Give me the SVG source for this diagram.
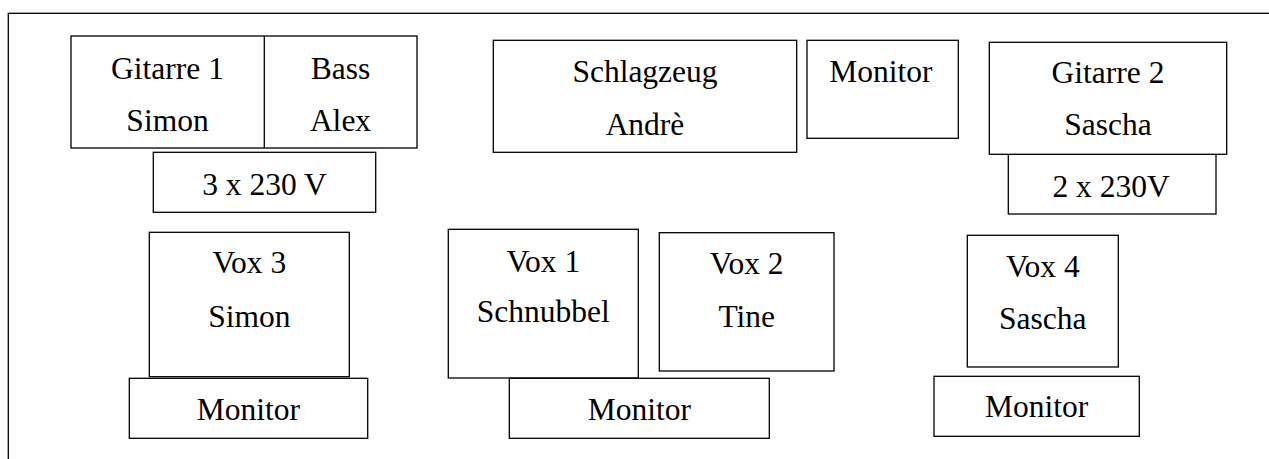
<svg xmlns="http://www.w3.org/2000/svg" width="1269" height="459" viewBox="0 0 1269 459">
<style>
rect{fill:#fff;stroke:#000;stroke-width:1.3}
text{font-size:31.5px;fill:#000;text-anchor:middle}
.f{font-family:'Liberation Serif','Times New Roman','DejaVu Serif',serif}
</style>
<rect x="8.3" y="13.3" width="1300" height="500"/>
<g class="f" font-family="Liberation Serif, Times New Roman, DejaVu Serif, serif">
<g id="gitarre1-bass">
<rect x="71" y="36" width="346" height="112"/>
<line x1="264.3" y1="36" x2="264.3" y2="148" stroke="#000" stroke-width="1.3"/>
<text x="167.5" y="78.7">Gitarre 1</text>
<text x="167.5" y="130.7">Simon</text>
<text x="340.5" y="78.7">Bass</text>
<text x="340.5" y="130.7">Alex</text>
</g>
<g id="power3">
<rect x="153.3" y="152.3" width="222.4" height="60"/>
<text x="264.5" y="195">3 x 230 V</text>
</g>
<g id="schlagzeug">
<rect x="493.3" y="40.3" width="303.4" height="112"/>
<text x="645" y="81.7">Schlagzeug</text>
<text x="645" y="135">Andrè</text>
</g>
<g id="monitor-top">
<rect x="807" y="40.3" width="151.3" height="98"/>
<text x="881" y="81.7">Monitor</text>
</g>
<g id="power2">
<rect x="1008.3" y="154.3" width="207.7" height="59.7"/>
<text x="1111" y="196.7">2 x 230V</text>
</g>
<g id="gitarre2">
<rect x="989.3" y="42.3" width="237.4" height="112"/>
<text x="1108" y="83.3">Gitarre 2</text>
<text x="1108" y="135">Sascha</text>
</g>
<g id="vox3">
<rect x="149.3" y="232.3" width="200" height="144.4"/>
<text x="249.3" y="273.3">Vox 3</text>
<text x="249.3" y="327.3">Simon</text>
</g>
<g id="monitor-vox3">
<rect x="129.3" y="378.3" width="238.4" height="60"/>
<text x="248.5" y="420">Monitor</text>
</g>
<g id="vox1">
<rect x="448.3" y="229.3" width="190" height="148.7"/>
<text x="543.3" y="271.7">Vox 1</text>
<text x="543.3" y="321.7">Schnubbel</text>
</g>
<g id="vox2">
<rect x="659.3" y="232.7" width="174.7" height="138.3"/>
<text x="746.7" y="274">Vox 2</text>
<text x="746.7" y="326.7">Tine</text>
</g>
<g id="monitor-vox12">
<rect x="509.3" y="378.3" width="260" height="60"/>
<text x="639.3" y="420">Monitor</text>
</g>
<g id="vox4">
<rect x="967.3" y="235.3" width="151" height="131.7"/>
<text x="1042.8" y="276.7">Vox 4</text>
<text x="1042.8" y="329">Sascha</text>
</g>
<g id="monitor-vox4">
<rect x="934" y="376.3" width="205.3" height="60"/>
<text x="1036.7" y="417.3">Monitor</text>
</g>
</g>
<g id="connectors"/>
</svg>
